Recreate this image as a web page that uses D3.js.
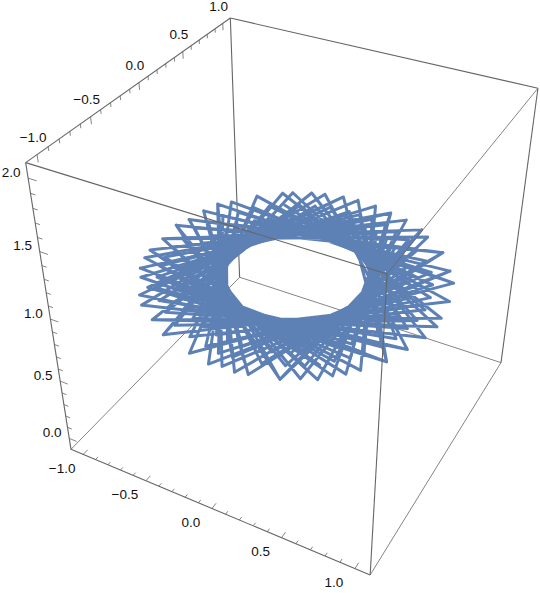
<!DOCTYPE html>
<html><head><meta charset="utf-8"><script src="https://cdn.jsdelivr.net/npm/d3@7"></script>
<style>html,body{margin:0;background:#fff}svg{display:block}text{font-family:"Liberation Sans",Arial,sans-serif;font-size:13.5px;fill:#111}</style></head>
<body><div id="c"></div><script>
// Curve corners, in data coordinates (z = 1 plane)
const outerX=[-.49,-.37,-.28,-.15,-.04,.10,.23,.36,.50,.57,.73,.85,.92,.97,.99,1.00,.98,.93,.87,.77,.71,.65,.59,.50,.40,.22,.14,.05,-.03,-.18,-.41,-.55,-.69,-.76,-.76,-.86,-.92,-.96,-.98,-.98,-.99,-.95,-.92,-.88,-.81,-.69,-.55];
const outerY=[.87,.93,.96,.99,1.00,.99,.96,.93,.87,.81,.69,.52,.41,.22,.04,-.05,-.18,-.33,-.49,-.63,-.70,-.75,-.82,-.86,-.92,-.97,-.99,-.98,-1.00,-.97,-.90,-.81,-.72,-.64,-.55,-.48,-.40,-.29,-.20,-.05,.13,.23,.37,.49,.56,.71,.83];
const midX=[-.37,-.27,-.17,-.03,.05,.15,.26,.36,.47,.57,.67,.75,.81,.85,.87,.87,.85,.83,.79,.72,.67,.60,.54,.47,.37,.24,.14,.06,-.03,-.13,-.26,-.40,-.52,-.62,-.71,-.77,-.82,-.85,-.87,-.87,-.86,-.82,-.77,-.70,-.63,-.55,-.46];
const midY=[.75,.79,.83,.84,.84,.83,.81,.77,.72,.64,.55,.45,.33,.20,.07,-.05,-.15,-.27,-.38,-.48,-.56,-.63,-.70,-.75,-.80,-.85,-.88,-.88,-.89,-.87,-.84,-.79,-.71,-.63,-.53,-.43,-.32,-.22,-.10,.02,.16,.27,.38,.47,.57,.64,.70];
const innerX=[-.33,-.24,-.13,-.03,.06,.16,.25,.34,.43,.52,.59,.66,.71,.74,.75,.75,.74,.71,.67,.62,.56,.49,.42,.34,.24,.14,.06,-.04,-.13,-.24,-.34,-.44,-.53,-.60,-.65,-.69,-.72,-.72,-.72,-.70,-.66,-.62,-.55,-.48,-.41];
const innerY=[.61,.65,.68,.71,.71,.70,.68,.65,.59,.52,.44,.35,.25,.14,.03,-.07,-.17,-.27,-.36,-.44,-.51,-.58,-.64,-.69,-.73,-.75,-.77,-.77,-.75,-.72,-.68,-.62,-.55,-.47,-.37,-.27,-.17,-.07,.03,.14,.24,.33,.43,.50,.56];
const curveZ=1;
const holeRadius=0.472;
const xDomain=[-1.1,1.1],yDomain=[-1.1,1.1],zDomain=[-0.1,2.1];
const tickValues=[-1,-0.5,0,0.5,1],tickLabels=["\u22121.0","\u22120.5","0.0","0.5","1.0"];
const zTickValues=[0,0.5,1,1.5,2],zTickLabels=["0.0","0.5","1.0","1.5","2.0"];
// Camera calibration: unit-cube corner -> screen position
const viewAnchors=[[0,0,0,71,449],[1,0,0,371,575],[1,1,0,501,362],[0,1,0,239,278],[0,0,1,25.7,162],[1,0,1,386,275],[1,1,1,538,88],[0,1,1,231,18]];
const W=540,H=593;
const sx=d3.scaleLinear().domain(xDomain).range([0,1]),sy=d3.scaleLinear().domain(yDomain).range([0,1]),sz=d3.scaleLinear().domain(zDomain).range([0,1]);
function solve(A,b){const n=b.length,M=A.map((r,i)=>[...r,b[i]]);for(let i=0;i<n;i++){let p=i;for(let r=i+1;r<n;r++)if(Math.abs(M[r][i])>Math.abs(M[p][i]))p=r;[M[i],M[p]]=[M[p],M[i]];for(let r=0;r<n;r++)if(r!==i){const f=M[r][i]/M[i][i];for(let c=i;c<=n;c++)M[r][c]-=f*M[i][c];}}return M.map((r,i)=>r[n]/r[i]);}
const rows=[],rhs=[];viewAnchors.forEach(([X,Y,Z,u,v])=>{rows.push([X,Y,Z,1,0,0,0,0,-u*X,-u*Y,-u*Z]);rhs.push(u);rows.push([0,0,0,0,X,Y,Z,1,-v*X,-v*Y,-v*Z]);rhs.push(v);});
const ATA=d3.range(11).map(i=>d3.range(11).map(j=>d3.sum(rows,r=>r[i]*r[j]))),ATb=d3.range(11).map(i=>d3.sum(rows,(r,k)=>r[i]*rhs[k]));
const P=solve(ATA,ATb);
function proj(X,Y,Z){const d=P[8]*X+P[9]*Y+P[10]*Z+1;return[(P[0]*X+P[1]*Y+P[2]*Z+P[3])/d,(P[4]*X+P[5]*Y+P[6]*Z+P[7])/d];}
const project=(x,y,z)=>proj(sx(x),sy(y),sz(z));
const svg=d3.select("#c").append("svg").attr("width",W).attr("height",H);
const edge=(g,a,b,w)=>g.append("line").attr("x1",a[0]).attr("y1",a[1]).attr("x2",b[0]).attr("y2",b[1]).attr("stroke","#666").attr("stroke-width",w||1.1);
const [x0,x1]=xDomain,[y0,y1]=yDomain,[z0,z1]=zDomain;
const back=svg.append("g"),mark=svg.append("g"),front=svg.append("g");
[[[x0,y1,z0],[x1,y1,z0],.8],[[x0,y0,z0],[x0,y1,z0],.8],[[x0,y1,z0],[x0,y1,z1]],[[x1,y0,z0],[x1,y1,z0],.8],[[x0,y0,z0],[x1,y0,z0]],[[x0,y0,z0],[x0,y0,z1]],[[x1,y1,z0],[x1,y1,z1]],[[x0,y0,z1],[x0,y1,z1]],[[x0,y1,z1],[x1,y1,z1]]].forEach(([a,b,w])=>edge(back,project(...a),project(...b),w));
[[[x0,y0,z1],[x1,y0,z1]],[[x1,y0,z1],[x1,y1,z1],.8],[[x1,y0,z0],[x1,y0,z1]]].forEach(([a,b,w])=>edge(front,project(...a),project(...b),w));
const minor=d3.range(-10,11).map(d=>d/10),zMinor=d3.range(0,21).map(d=>d/10);
const isMajor=v=>Math.abs(v*2-Math.round(v*2))<1e-6;
minor.forEach(v=>{const L=isMajor(v)?0.05:0.028;edge(back,project(v,y0,z0),project(v,y0+L,z0),.8);
 edge(back,project(x0,v,z1),project(x0,v,z1-L),.8);});
zMinor.forEach(v=>{const L=isMajor(v)?0.06:0.035;edge(back,project(x0,y0,v),project(x0+L,y0,v),.8);});
const label=(p,dx,dy,t)=>svg.append("text").attr("x",p[0]+dx).attr("y",p[1]+dy).attr("text-anchor","middle").attr("dominant-baseline","central").text(t);
tickValues.forEach((v,i)=>{label(project(v,y0,z0),-21,14,tickLabels[i]);label(project(x0,v,z1),-4,-17,tickLabels[i]);});
zTickValues.forEach((v,i)=>label(project(x0,y0,v),-17,-6,zTickLabels[i]));
const lineGen=d3.line().x(d=>project(...d)[0]).y(d=>project(...d)[1]);
[[outerX,outerY,true],[midX,midY,false],[innerX,innerY,false]].forEach(([X,Y,both])=>{
 const t=X.map((x,i)=>[x,Y[i],curveZ]);
 const pol=t.map(p=>({a:Math.atan2(p[1],p[0]),r:Math.hypot(p[0],p[1])}));const seen=new Set();
 const near=want=>d3.scan(pol,(p,q)=>Math.abs(Math.atan2(Math.sin(p.a-want),Math.cos(p.a-want)))-Math.abs(Math.atan2(Math.sin(q.a-want),Math.cos(q.a-want))));
 const d=[];
 t.forEach((p,i)=>{const s=2*Math.acos(Math.min(0.98,holeRadius/pol[i].r));
  (both?[-s,s]:[-s]).forEach(o=>{const j=near(pol[i].a+o),k=Math.min(i,j)+"_"+Math.max(i,j);if(seen.has(k))return;seen.add(k);d.push(lineGen([p,t[j]]));});});
 mark.append("path").attr("d",d.join("")).attr("fill","none").attr("stroke","#5e81b5").attr("stroke-width",3).attr("stroke-linecap","round");
});
</script></body></html>
